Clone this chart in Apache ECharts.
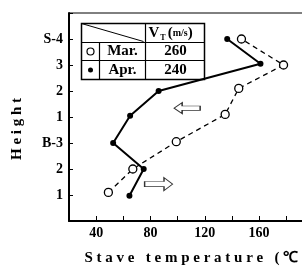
<!DOCTYPE html>
<html>
<head>
<meta charset="utf-8">
<script src="https://cdn.jsdelivr.net/npm/echarts@6/dist/echarts.min.js"></script>
<style>
  html, body { margin: 0; padding: 0; background: #fff; }
  #chart { width: 302px; height: 269px; }
</style>
</head>
<body>
<div id="chart"></div>
<script>
// height positions 1..7 with labels
const heightLabels = ['1', '2', 'B-3', '1', '2', '3', 'S-4']
const xTicks = [40, 80, 120, 160]

// [temperature, height position]
const marData = [[49, 1.1], [67, 2.0], [99, 3.05], [135, 4.1], [145, 5.1], [178, 6.0], [147, 7.0]]
const aprData = [[64.5, 0.97], [75, 2.0], [52.5, 3.0], [65, 4.05], [86, 5.0], [161, 6.05], [136.5, 7.0]]

const legendNames = ['Mar.', 'Apr.']
const legendValues = [260, 240]

// flow direction arrows (annotation)
const arrowLeft = [[107, 4.34]]
const arrowRight = [[86, 1.42]]

const font = 'Liberation Serif'
const spaced = (s, sp) => s.split('').join(sp)

const chart = echarts.init(document.getElementById('chart'))

const option = {
    animation: false,
    grid: {
        left: 69, top: 13, right: -6, bottom: 48,
        outerBoundsMode: 'none',
        containLabel: false,
        show: true, borderColor: '#000', borderWidth: 1
    },
    xAxis: {
        type: 'value',
        min: 20, max: 196, interval: 20,
        name: spaced('Stave temperature (℃)', '\u2005'),
        nameLocation: 'middle',
        nameGap: 30,
        nameTextStyle: { fontFamily: font, fontWeight: 'bold', fontSize: 15, color: '#000', align: 'left', padding: [0, 0, 0, -104] },
        axisLine: { lineStyle: { color: '#000', width: 2 } },
        axisTick: { inside: true, length: 5, lineStyle: { color: '#000', width: 1 } },
        axisLabel: {
            color: '#000', fontFamily: font, fontWeight: 'bold', fontSize: 14, margin: 5,
            formatter: v => xTicks.includes(v) ? String(v) : ''
        },
        splitLine: { show: false }
    },
    yAxis: {
        type: 'value',
        min: 0, max: 8, interval: 1,
        name: spaced('Height', '\u2005'),
        nameLocation: 'middle',
        nameGap: 44,
        nameTextStyle: { fontFamily: font, fontWeight: 'bold', fontSize: 15, color: '#000', padding: [0, 24, 0, 0] },
        axisLine: { lineStyle: { color: '#000', width: 2 } },
        axisTick: { inside: true, length: 4, lineStyle: { color: '#000', width: 1 } },
        axisLabel: {
            color: '#000', fontFamily: font, fontWeight: 'bold', fontSize: 14, margin: 6,
            formatter: v => heightLabels[v - 1] || ''
        },
        splitLine: { show: false }
    },
    series: [
        {
            name: 'Mar.',
            type: 'line',
            data: marData,
            symbol: 'circle',
            symbolSize: 8,
            itemStyle: { color: '#fff', borderColor: '#000', borderWidth: 1.3 },
            lineStyle: { color: '#000', width: 1.3, type: [5, 4] },
            z: 3
        },
        {
            name: 'Apr.',
            type: 'line',
            data: aprData,
            symbol: 'circle',
            symbolSize: 6,
            itemStyle: { color: '#000' },
            lineStyle: { color: '#000', width: 2 },
            z: 2
        },
        {
            type: 'scatter',
            data: arrowLeft,
            symbol: 'path://M0,5 L8,0 L8,3 L26,3 L26,7 L8,7 L8,10 Z',
            symbolSize: [26, 11],
            symbolKeepAspect: false,
            itemStyle: { color: '#fff', borderColor: '#000', borderWidth: 1 },
            silent: true
        },
        {
            type: 'scatter',
            data: arrowRight,
            symbol: 'path://M26,5 L18,0 L18,3 L0,3 L0,7 L18,7 L18,10 Z',
            symbolSize: [28, 13],
            symbolKeepAspect: false,
            itemStyle: { color: '#fff', borderColor: '#000', borderWidth: 1 },
            silent: true
        }
    ],
    graphic: [
        {
            type: 'group',
            left: 79, top: 21,
            z: 10,
            children: [
                { type: 'rect', shape: { x: 0, y: 0, width: 123, height: 56 }, style: { fill: '#fff', stroke: '#000', lineWidth: 1.5 } },
                { type: 'line', shape: { x1: 0, y1: 19, x2: 123, y2: 19 }, style: { stroke: '#000', lineWidth: 1.2 } },
                { type: 'line', shape: { x1: 0, y1: 37, x2: 123, y2: 37 }, style: { stroke: '#000', lineWidth: 1.2 } },
                { type: 'line', shape: { x1: 18, y1: 19, x2: 18, y2: 56 }, style: { stroke: '#000', lineWidth: 1.2 } },
                { type: 'line', shape: { x1: 64, y1: 0, x2: 64, y2: 56 }, style: { stroke: '#000', lineWidth: 1.2 } },
                { type: 'line', shape: { x1: 0, y1: 0, x2: 62, y2: 18 }, style: { stroke: '#000', lineWidth: 1 } },
                { type: 'circle', shape: { cx: 9, cy: 28, r: 3.5 }, style: { fill: '#fff', stroke: '#000', lineWidth: 1.2 } },
                { type: 'circle', shape: { cx: 9, cy: 46.5, r: 2.5 }, style: { fill: '#000' } },
                {
                    type: 'text', x: 67, y: 10,
                    style: {
                        text: '{v|V}{s|T}{v|(}{f|m/s}{v|)}',
                        verticalAlign: 'middle',
                        rich: {
                            v: { fontFamily: font, fontWeight: 'bold', fontSize: 15, fill: '#000' },
                            s: { fontFamily: font, fontWeight: 'bold', fontSize: 8, fill: '#000', padding: [8, 2, 0, 1] },
                            f: { fontFamily: font, fontWeight: 'bold', fontSize: 10, fill: '#000' }
                        }
                    }
                },
                ...legendNames.map((n, i) => ({
                    type: 'text', x: 41, y: 28 + i * 18.5,
                    style: { text: n, fontFamily: font, fontWeight: 'bold', fontSize: 15, fill: '#000', align: 'center', verticalAlign: 'middle' }
                })),
                ...legendValues.map((v, i) => ({
                    type: 'text', x: 94, y: 28 + i * 18.5,
                    style: { text: String(v), fontFamily: font, fontWeight: 'bold', fontSize: 15, fill: '#000', align: 'center', verticalAlign: 'middle' }
                }))
            ]
        }
    ]
}
chart.setOption(option)
</script>
</body>
</html>
